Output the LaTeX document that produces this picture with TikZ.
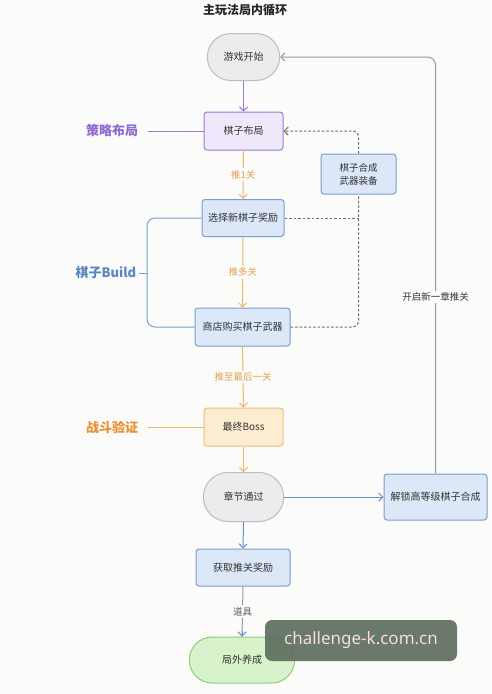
\documentclass[tikz,border=0pt]{standalone}
\usepackage{fontspec}
\setmainfont{Noto Sans CJK SC}
\newfontfamily\wmfont{Noto Sans}
\usetikzlibrary{arrows.meta,shapes.misc,calc}
\definecolor{bgc}{HTML}{FBFBFA}
\definecolor{purpleL}{HTML}{9C7BD6}
\definecolor{purpleT}{HTML}{8E6BD1}
\definecolor{purpleF}{HTML}{EEE8FA}
\definecolor{blueF}{HTML}{DCE7F7}
\definecolor{blueB}{HTML}{7D9CCF}
\definecolor{blueT}{HTML}{5B86C6}
\definecolor{blueA}{HTML}{6F8FC8}
\definecolor{orangeA}{HTML}{E8B86A}
\definecolor{orangeT}{HTML}{E0A050}
\definecolor{orangeS}{HTML}{E8902E}
\definecolor{orangeF}{HTML}{FCECD2}
\definecolor{orangeB}{HTML}{E8C27A}
\definecolor{grayF}{HTML}{ECECEE}
\definecolor{grayB}{HTML}{BDBDBD}
\definecolor{grayA}{HTML}{9A9A9A}
\definecolor{greenF}{HTML}{D8F2CB}
\definecolor{greenB}{HTML}{8FCC7E}
\definecolor{wmF}{HTML}{5E6F5E}
\definecolor{wmT}{HTML}{F6DCDC}
\definecolor{textc}{HTML}{333333}
\tikzset{
  tip/.style={-{Straight Barb[length=4pt,width=8pt,line width=1pt]}},
  stadium/.style={rounded rectangle, draw=grayB, fill=grayF, line width=1pt, minimum height=47pt, text=textc, font=\fontsize{10}{12}\selectfont},
  boxp/.style={rectangle, rounded corners=3pt, draw=purpleL, fill=purpleF, line width=1pt, minimum width=79pt, minimum height=38pt, text=textc, font=\fontsize{10}{12}\selectfont},
  boxb/.style={rectangle, rounded corners=3pt, draw=blueB, fill=blueF, line width=1pt, minimum height=37pt, text=textc, font=\fontsize{10}{12}\selectfont, align=center},
  boxo/.style={rectangle, rounded corners=3pt, draw=orangeB, fill=orangeF, line width=1pt, minimum width=79pt, minimum height=38pt, text=textc, font=\fontsize{10}{12}\selectfont},
  sidelab/.style={font=\bfseries\fontsize{13}{15}\selectfont},
  elab/.style={fill=bgc, inner sep=2pt, font=\fontsize{9.5}{11}\selectfont},
  oarrow/.style={draw=orangeA, line width=1pt, tip},
  barrow/.style={draw=blueA, line width=1pt, tip},
  dashc/.style={draw=gray!85!black, line width=1pt, dash pattern=on 2.5pt off 2pt, rounded corners=6pt},
}
\begin{document}
\begin{tikzpicture}[x=1pt,y=-1pt]
\fill[bgc] (0,0) rectangle (491,694);
\useasboundingbox (0,0) rectangle (491,694);

\node[font=\bfseries\fontsize{12}{14}\selectfont, text=black!85] (title) at (245,10) {主玩法局内循环};

\node[stadium, minimum width=79pt] (start) at (243.5,57) {游戏开始};
\node[boxp] (layout) at (243.5,131) {棋子布局};
\node[boxb, minimum width=82pt] (sel) at (243,218) {选择新棋子奖励};
\node[boxb, minimum width=95pt, minimum height=38pt] (shop) at (242.5,327) {商店购买棋子武器};
\node[boxo] (boss) at (243.5,427) {最终Boss};
\node[stadium, minimum width=87pt, minimum height=49pt] (pass) at (243.5,497) {章节通过};
\node[boxb, minimum width=103pt, minimum height=46pt] (unlock) at (435.5,497) {解锁高等级棋子合成};
\node[boxb, minimum width=94pt] (reward) at (243,567.5) {获取推关奖励};
\node[rounded rectangle, draw=greenB, fill=greenF, line width=1pt, minimum width=112pt, minimum height=46pt, text=textc, font=\fontsize{10}{12}\selectfont] (meta) at (242,660) {局外养成};
\node[boxb, minimum width=75pt, minimum height=40pt, font=\fontsize{9.5}{13}\selectfont] (combo) at (358.5,174) {棋子合成\\武器装备};

% side labels
\node[sidelab, text=purpleT] (strat) at (112,131) {策略布局};
\node[sidelab, text=blueT] (build) at (106,273) {棋子Build};
\node[sidelab, text=orangeS] (fight) at (112,427) {战斗验证};
\draw[purpleL, line width=1pt] ($(strat.east)+(6,0)$) -- (layout.west);
\draw[orangeA, line width=1pt] ($(fight.east)+(6,0)$) -- (boss.west);
\coordinate (brk) at (147,273);
\draw[blueB, line width=1pt, rounded corners=8pt] (sel.west) -- (sel.west -| brk) -- (shop.west -| brk) -- (shop.west);
\draw[blueB, line width=1pt] (brk) -- ++(-8,0);

% main flow
\draw[draw=purpleL, line width=1pt, tip] (start.south) -- (layout.north);
\draw[oarrow] (layout.south) -- node[elab, text=orangeT] (l1) {推1关} (sel.north);
\draw[oarrow] (sel.south) -- node[elab, text=orangeT] (l2) {推多关} (shop.north);
\draw[oarrow] (shop.south) -- node[elab, text=orangeT] (l3) {推至最后一关} (boss.north);
\draw[oarrow] (boss.south) -- (pass.north);
\draw[barrow] (pass.south) -- (reward.north);
\draw[barrow] (pass.east) -- (unlock.west);
\draw[draw=grayA, line width=1pt] (reward.south) -- node[elab, text=textc!80] (l4) {道具} (meta.north);
\draw[barrow] ($(meta.north)+(0,-6)$) -- (meta.north);

% return loop
\draw[draw=grayA, line width=1pt, rounded corners=8pt, tip] (unlock.north) -- (unlock.north |- start.east) -- (start.east);
\node[fill=bgc, inner sep=2pt, text=textc, font=\fontsize{9.5}{11}\selectfont] (newch) at (435.5,297) {开启新一章推关};

% dashed feedback
\draw[dashc] (shop.east) -- (shop.east -| combo.south) -- (combo.south);
\draw[dashc] (sel.east) -- (sel.east -| combo.south);
\draw[dashc, -{Straight Barb[length=4pt,width=8pt,line width=1pt]}] (combo.north) -- (combo.north |- layout.east) -- (layout.east);

% watermark
\node[rectangle, rounded corners=7pt, fill=wmF, fill opacity=0.92, text opacity=1, text=wmT, minimum width=192pt, minimum height=41pt, font=\wmfont\fontsize{17}{20}\selectfont] (wm) at (361,640.5) {challenge-k.com.cn};
\end{tikzpicture}
\end{document}
